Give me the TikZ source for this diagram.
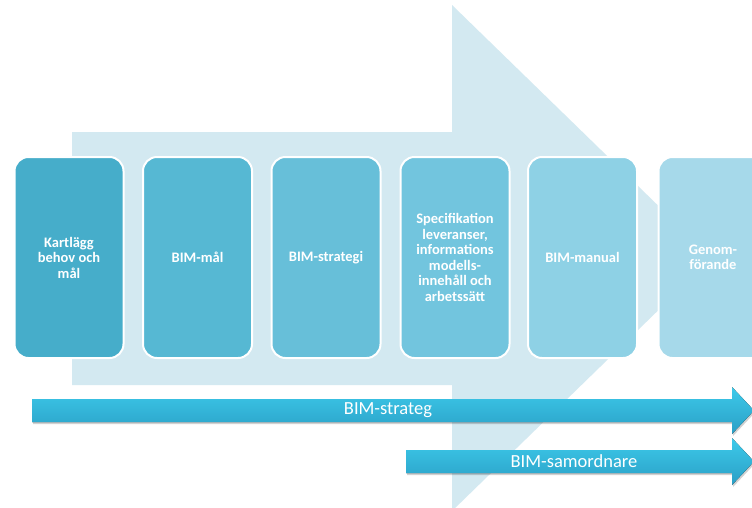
\documentclass[tikz,border=0pt]{standalone}
\usepackage{fontspec}
\setmainfont{Carlito}
\usetikzlibrary{calc}
\definecolor{bgarrow}{HTML}{D3E9F1}
\definecolor{boxA}{HTML}{46ADCA}
\definecolor{boxB}{HTML}{56B8D3}
\definecolor{boxC}{HTML}{67BFD9}
\definecolor{boxD}{HTML}{72C5DE}
\definecolor{boxE}{HTML}{8ED1E5}
\definecolor{boxF}{HTML}{A6D9EA}
\definecolor{arrtop}{HTML}{3DCAEA}
\definecolor{arrbot}{HTML}{2A9FC6}
\tikzset{
  stepbox/.style={rectangle, rounded corners=14pt, minimum width=109pt, minimum height=201pt,
    draw=white, line width=2pt, text=white, align=center,
    font=\fontsize{14.5}{15.5}\selectfont\bfseries, inner sep=2pt},
  rolearrow/.style={top color=arrtop, bottom color=arrbot, draw=none},
  roleshadow/.style={fill=black, opacity=0.18, draw=none},
  rolelabel/.style={text=white, font=\fontsize{18.5}{20}\selectfont, inner sep=0pt}
}
\begin{document}
\begin{tikzpicture}[x=1pt, y=-1pt]
\clip (0,0) rectangle (752,507);
\fill[white] (0,0) rectangle (752,507);
% big background arrow
\fill[bgarrow] (72,132) -- (452,132) -- (452,5) -- (712,258) -- (452,511) -- (452,385) -- (72,385) -- cycle;
% step boxes
\node[stepbox, fill=boxA] (s1) at (69,257.5) {Kartlägg\\behov och\\mål};
\node[stepbox, fill=boxB] (s2) at (197.5,257.5) {BIM-mål};
\node[stepbox, fill=boxC] (s3) at (326,257.5) {BIM-strategi};
\node[stepbox, fill=boxD] (s4) at (455,257.5) {Specifikation\\leveranser,\\informations\\modells-\\innehåll och\\arbetssätt};
\node[stepbox, fill=boxE] (s5) at (582.5,257.5) {BIM-manual};
\node[stepbox, fill=boxF] (s6) at (713,257.5) {Genom-\\förande};
% role arrows
\fill[roleshadow] (33,401) -- (733,401) -- (733,389) -- (755,412.5) -- (733,436) -- (733,424) -- (33,424) -- cycle;
\fill[rolearrow] (32,399) -- (732,399) -- (732,387) -- (754,410.5) -- (732,434) -- (732,422) -- (32,422) -- cycle;
\fill[roleshadow] (407,452) -- (733,452) -- (733,440) -- (755,463.5) -- (733,487) -- (733,475) -- (407,475) -- cycle;
\fill[rolearrow] (406,450) -- (732,450) -- (732,438) -- (754,461.5) -- (732,485) -- (732,473) -- (406,473) -- cycle;
\node[rolelabel] (r1) at (388,410.5) {BIM-strateg};
\node[rolelabel] (r2) at (574,461.5) {BIM-samordnare};
\end{tikzpicture}
\end{document}
